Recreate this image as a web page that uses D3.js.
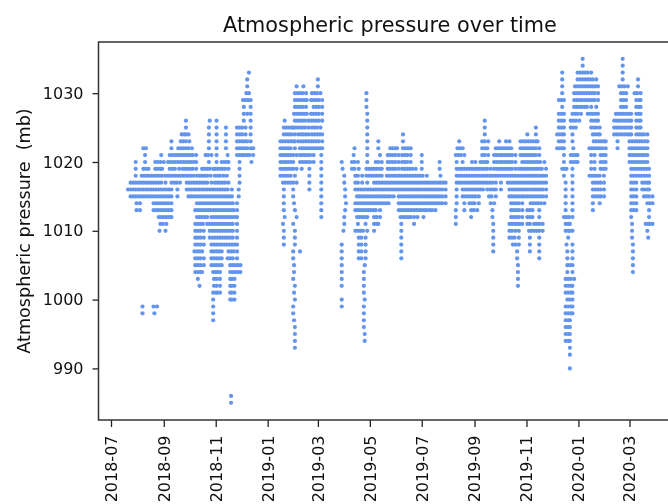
<!DOCTYPE html>
<html>
<head>
  <meta charset="utf-8">
  <title>Atmospheric pressure over time</title>
  <script src="https://d3js.org/d3.v7.min.js"></script>
  <style>
    html, body { margin: 0; padding: 0; background: #fff; overflow: hidden; }
    svg { display: block; filter: blur(0.5px); }
    text { font-family: "DejaVu Sans", sans-serif; fill: #111; }
  </style>
</head>
<body>
<script>
// tick labels
var yTicks = [990, 1000, 1010, 1020, 1030];
var xTickMonths = ["2018-07", "2018-09", "2018-11", "2019-01", "2019-03", "2019-05", "2019-07", "2019-09", "2019-11", "2020-01", "2020-03"];

// readings: pressure in mb, and for each pressure the days (counted from 2018-07-01) it was seen on
var pressures = [1035, 1034, 1033, 1032, 1031, 1030, 1029, 1028, 1027, 1026, 1025, 1024, 1023, 1022, 1021, 1020, 1019, 1018, 1017, 1016, 1015, 1014, 1013, 1012, 1011, 1010, 1009, 1008, 1007, 1006, 1005, 1004, 1003, 1002, 1001, 1000, 999, 998, 997, 996, 995, 994, 993, 992, 990, 986, 985];

var days1035 = [554, 601];
var days1034 = [554, 601];
var days1033 = [162, 530, 548, 551, 554, 557, 560, 564, 601];
var days1032 = [160, 243, 530, 548, 551, 554, 557, 560, 563, 566, 570, 601, 619];
var days1031 = [160, 218, 226, 243, 530, 545, 548, 551, 554, 557, 560, 563, 566, 569, 572, 597, 600, 603, 607, 619];
var days1030 = [159, 162, 216, 219, 222, 225, 229, 236, 239, 242, 246, 300, 530, 544, 547, 550, 553, 556, 559, 562, 565, 568, 572, 599, 602, 605, 615, 618, 622];
var days1029 = [155, 158, 161, 164, 216, 219, 222, 225, 228, 230, 235, 238, 241, 244, 248, 300, 526, 529, 532, 544, 547, 550, 553, 556, 559, 562, 565, 568, 572, 599, 602, 605, 617, 620, 622];
var days1028 = [156, 164, 216, 219, 222, 225, 229, 238, 241, 244, 248, 300, 530, 544, 547, 550, 553, 556, 559, 564, 570, 599, 602, 605, 617, 620, 622];
var days1027 = [156, 160, 164, 215, 218, 221, 224, 227, 230, 235, 238, 241, 244, 248, 301, 526, 529, 532, 542, 545, 548, 552, 560, 563, 566, 569, 572, 593, 596, 599, 602, 605, 608, 611, 617, 620, 622];
var days1026 = [88, 116, 124, 156, 164, 204, 216, 219, 222, 225, 228, 232, 235, 238, 241, 244, 248, 301, 439, 526, 529, 532, 540, 543, 546, 550, 564, 567, 570, 572, 591, 594, 597, 600, 603, 606, 609, 611, 617, 620, 622];
var days1025 = [88, 115, 124, 135, 148, 151, 154, 158, 164, 203, 206, 209, 212, 214, 216, 219, 222, 225, 228, 232, 236, 239, 242, 246, 301, 439, 499, 526, 529, 532, 540, 543, 546, 564, 567, 570, 574, 591, 594, 597, 600, 603, 606, 609, 611, 617, 620, 622];
var days1024 = [83, 86, 88, 91, 115, 124, 135, 148, 151, 154, 158, 164, 203, 206, 209, 212, 216, 220, 223, 226, 229, 232, 236, 239, 242, 245, 248, 301, 343, 439, 489, 499, 524, 527, 530, 532, 542, 566, 569, 572, 574, 591, 594, 597, 600, 603, 606, 609, 611, 617, 620, 623, 626, 630];
var days1023 = [71, 82, 85, 88, 92, 115, 124, 135, 148, 151, 154, 157, 160, 164, 199, 202, 205, 208, 211, 214, 216, 220, 223, 226, 229, 232, 235, 238, 241, 244, 248, 301, 314, 343, 409, 436, 439, 443, 456, 464, 468, 481, 484, 487, 490, 493, 496, 499, 501, 526, 529, 532, 542, 567, 570, 573, 576, 579, 581, 595, 609, 612, 615, 618, 621, 624, 627, 630];
var days1022 = [38, 41, 71, 79, 82, 85, 88, 91, 95, 115, 124, 135, 148, 151, 154, 157, 160, 164, 167, 199, 202, 205, 208, 211, 216, 222, 225, 228, 231, 234, 237, 240, 243, 246, 248, 286, 301, 314, 328, 331, 334, 336, 343, 346, 349, 352, 407, 410, 413, 436, 439, 442, 452, 455, 458, 461, 464, 467, 470, 481, 484, 487, 490, 493, 496, 499, 503, 524, 527, 530, 532, 543, 562, 565, 568, 571, 574, 577, 581, 595, 609, 612, 615, 618, 621, 624, 627, 630];
var days1021 = [40, 59, 69, 72, 75, 78, 81, 84, 87, 90, 93, 96, 100, 111, 114, 118, 124, 137, 148, 151, 154, 157, 160, 163, 167, 199, 202, 205, 208, 211, 214, 218, 222, 225, 228, 231, 234, 238, 247, 285, 301, 316, 325, 328, 331, 334, 338, 342, 345, 348, 352, 365, 405, 408, 411, 415, 436, 439, 443, 450, 453, 456, 459, 462, 465, 468, 471, 475, 481, 484, 487, 490, 493, 496, 499, 503, 532, 540, 543, 546, 548, 564, 568, 575, 578, 581, 609, 612, 615, 618, 621, 624, 627, 630];
var days1020 = [29, 40, 52, 55, 58, 62, 67, 70, 73, 76, 79, 82, 85, 88, 91, 94, 97, 100, 115, 124, 130, 133, 136, 138, 151, 165, 199, 202, 205, 208, 211, 214, 222, 225, 228, 231, 234, 238, 247, 271, 283, 286, 290, 301, 311, 314, 318, 325, 328, 331, 334, 338, 342, 345, 348, 352, 365, 386, 406, 413, 424, 428, 434, 437, 440, 442, 450, 453, 456, 459, 462, 465, 468, 471, 475, 483, 486, 489, 492, 495, 498, 501, 504, 509, 532, 540, 543, 546, 548, 564, 568, 575, 578, 581, 609, 612, 615, 618, 621, 624, 627, 630];
var days1019 = [29, 38, 41, 44, 52, 55, 58, 60, 69, 72, 75, 80, 84, 87, 90, 93, 96, 100, 107, 110, 113, 116, 120, 122, 125, 128, 131, 134, 138, 151, 199, 202, 205, 208, 211, 214, 218, 224, 233, 247, 272, 283, 286, 291, 300, 303, 306, 309, 312, 315, 318, 325, 328, 331, 334, 338, 342, 345, 348, 351, 354, 358, 365, 386, 406, 409, 412, 415, 418, 421, 424, 427, 430, 433, 436, 439, 442, 446, 450, 453, 456, 459, 462, 465, 468, 471, 475, 479, 482, 485, 488, 491, 494, 497, 500, 503, 506, 511, 530, 533, 535, 542, 564, 568, 575, 578, 581, 611, 614, 617, 620, 623, 626, 629, 632];
var days1018 = [29, 36, 39, 42, 45, 48, 51, 54, 57, 60, 64, 67, 70, 73, 76, 79, 82, 85, 88, 91, 94, 97, 101, 104, 107, 110, 113, 117, 122, 125, 128, 132, 136, 151, 199, 202, 205, 208, 211, 216, 233, 247, 274, 287, 290, 295, 300, 303, 306, 309, 312, 315, 318, 324, 327, 330, 333, 336, 339, 342, 345, 348, 351, 354, 357, 360, 363, 366, 371, 387, 406, 409, 412, 415, 418, 421, 424, 427, 430, 433, 436, 439, 442, 445, 448, 451, 454, 457, 460, 463, 466, 469, 472, 475, 478, 481, 484, 487, 490, 493, 496, 499, 502, 505, 508, 511, 532, 542, 562, 565, 568, 571, 574, 579, 611, 614, 617, 620, 623, 626, 629, 632];
var days1017 = [23, 26, 29, 32, 35, 38, 41, 44, 47, 50, 53, 56, 59, 64, 71, 74, 77, 81, 89, 92, 95, 98, 101, 104, 107, 110, 113, 118, 122, 125, 128, 131, 134, 138, 151, 202, 205, 208, 211, 214, 218, 233, 247, 274, 287, 290, 295, 301, 309, 312, 315, 318, 321, 324, 327, 330, 333, 336, 339, 342, 345, 348, 351, 354, 357, 360, 363, 366, 369, 372, 375, 378, 381, 384, 387, 390, 393, 406, 409, 412, 415, 418, 421, 424, 427, 430, 433, 436, 439, 442, 445, 448, 452, 458, 466, 469, 472, 475, 478, 481, 484, 487, 490, 493, 496, 499, 502, 505, 508, 511, 534, 542, 566, 569, 572, 575, 579, 611, 614, 617, 624, 627, 630, 632];
var days1016 = [20, 23, 26, 29, 32, 35, 38, 41, 44, 47, 50, 53, 56, 59, 62, 65, 68, 71, 78, 89, 92, 95, 98, 101, 104, 107, 110, 113, 116, 119, 122, 125, 128, 131, 134, 137, 142, 150, 203, 214, 233, 247, 275, 287, 290, 293, 296, 299, 302, 305, 308, 311, 314, 317, 320, 323, 326, 329, 332, 335, 338, 341, 344, 347, 350, 353, 356, 359, 362, 365, 368, 371, 374, 377, 380, 383, 386, 389, 393, 406, 413, 416, 419, 422, 425, 428, 431, 434, 437, 442, 446, 449, 452, 458, 468, 471, 474, 477, 480, 483, 486, 489, 492, 495, 498, 501, 504, 507, 511, 534, 542, 566, 569, 572, 575, 579, 611, 614, 617, 624, 627, 630, 632];
var days1015 = [23, 26, 29, 32, 35, 38, 41, 44, 47, 50, 53, 56, 59, 62, 65, 68, 71, 78, 91, 94, 97, 100, 103, 106, 109, 112, 115, 118, 121, 124, 127, 130, 133, 136, 139, 142, 150, 203, 214, 247, 275, 289, 292, 295, 298, 301, 304, 307, 310, 313, 316, 319, 322, 325, 328, 332, 338, 341, 344, 347, 350, 353, 356, 359, 362, 365, 368, 371, 374, 377, 380, 383, 386, 389, 393, 406, 413, 416, 419, 422, 425, 428, 432, 444, 447, 452, 468, 471, 474, 477, 480, 483, 486, 489, 492, 495, 498, 501, 504, 507, 511, 534, 542, 566, 569, 572, 575, 579, 611, 614, 617, 626, 629, 632, 636];
var days1014 = [30, 34, 50, 53, 56, 59, 62, 65, 68, 71, 101, 104, 107, 110, 113, 116, 119, 122, 125, 128, 131, 134, 137, 140, 143, 148, 203, 215, 247, 276, 287, 290, 293, 296, 299, 302, 305, 308, 311, 314, 317, 320, 323, 326, 338, 341, 344, 347, 350, 353, 356, 359, 362, 365, 368, 371, 374, 377, 380, 383, 386, 389, 393, 406, 415, 421, 424, 427, 432, 446, 450, 470, 473, 476, 479, 483, 493, 496, 499, 502, 505, 509, 534, 542, 566, 574, 611, 614, 617, 630, 633, 636];
var days1013 = [30, 34, 50, 53, 56, 59, 62, 65, 68, 71, 99, 102, 105, 108, 111, 114, 117, 120, 123, 126, 129, 132, 135, 138, 141, 144, 148, 203, 216, 247, 275, 287, 290, 293, 296, 299, 302, 305, 308, 311, 316, 338, 341, 344, 347, 350, 353, 356, 359, 362, 365, 368, 371, 374, 377, 381, 405, 415, 423, 426, 430, 448, 470, 473, 476, 479, 483, 489, 492, 495, 503, 534, 542, 566, 611, 614, 617, 632];
var days1012 = [56, 59, 62, 65, 68, 71, 101, 104, 107, 110, 113, 118, 121, 124, 127, 130, 133, 136, 139, 142, 145, 148, 204, 218, 247, 274, 289, 292, 295, 298, 301, 309, 312, 316, 340, 343, 346, 349, 352, 356, 360, 367, 405, 423, 448, 470, 473, 476, 479, 483, 489, 492, 495, 503, 532, 535, 538, 542, 611, 632];
var days1011 = [58, 61, 65, 99, 102, 105, 108, 113, 116, 119, 122, 125, 128, 131, 134, 137, 140, 143, 148, 202, 214, 274, 290, 299, 309, 312, 314, 341, 356, 405, 449, 468, 471, 474, 477, 480, 483, 489, 492, 497, 500, 503, 507, 534, 537, 539, 612, 628, 631, 633, 636];
var days1010 = [57, 64, 99, 102, 105, 109, 116, 119, 122, 125, 128, 131, 134, 137, 140, 143, 148, 203, 216, 273, 287, 290, 293, 296, 301, 309, 341, 449, 468, 471, 475, 479, 491, 494, 497, 500, 503, 507, 534, 537, 539, 542, 612, 630];
var days1009 = [99, 102, 105, 109, 116, 119, 122, 125, 128, 131, 134, 137, 140, 143, 148, 203, 216, 291, 294, 299, 341, 449, 468, 471, 474, 479, 492, 503, 537, 612, 631];
var days1008 = [99, 102, 105, 109, 118, 121, 124, 127, 130, 133, 136, 139, 142, 145, 148, 203, 216, 271, 291, 294, 299, 341, 449, 472, 475, 479, 492, 503, 535, 542, 613];
var days1007 = [98, 101, 104, 107, 118, 121, 124, 127, 130, 138, 141, 144, 148, 214, 222, 271, 291, 294, 299, 341, 449, 477, 492, 503, 536, 542, 613];
var days1006 = [99, 102, 105, 109, 118, 121, 124, 127, 130, 137, 140, 143, 148, 214, 271, 291, 294, 299, 341, 477, 503, 536, 542, 613];
var days1005 = [99, 102, 105, 109, 118, 121, 124, 127, 130, 140, 143, 146, 149, 152, 215, 271, 298, 478, 536, 539, 542, 613];
var days1004 = [99, 102, 105, 107, 120, 123, 125, 128, 140, 143, 146, 149, 152, 215, 271, 297, 478, 536, 542, 613];
var days1003 = [102, 121, 124, 128, 140, 142, 145, 214, 271, 297, 478, 534, 537, 540, 544];
var days1002 = [104, 121, 124, 128, 140, 142, 145, 216, 271, 297, 478, 534, 537, 540, 542];
var days1001 = [120, 123, 125, 128, 140, 142, 145, 215, 297, 534, 537, 540, 542];
var days1000 = [120, 140, 142, 145, 216, 271, 298, 536, 539, 542];
var days999 = [37, 50, 54, 120, 214, 271, 297, 534, 537, 540, 542];
var days998 = [37, 51, 120, 214, 297, 534, 537, 540, 542];
var days997 = [120, 215, 297, 534, 537, 539];
var days996 = [216, 297, 534, 537, 539];
var days995 = [216, 298, 534, 537, 539];
var days994 = [216, 298, 534, 537, 539];
var days993 = [216, 539];
var days992 = [539];
var days990 = [539];
var days986 = [141];
var days985 = [141];

var daysByPressure = [days1035, days1034, days1033, days1032, days1031, days1030, days1029, days1028, days1027, days1026, days1025, days1024, days1023, days1022, days1021, days1020, days1019, days1018, days1017, days1016, days1015, days1014, days1013, days1012, days1011, days1010, days1009, days1008, days1007, days1006, days1005, days1004, days1003, days1002, days1001, days1000, days999, days998, days997, days996, days995, days994, days993, days992, days990, days986, days985];

var width = 668, height = 504;
var margin = { left: 98.5, top: 42, bottom: 420 };
var parseMonth = d3.utcParse("%Y-%m");
var startDate = parseMonth("2018-07");

var xScale = d3.scaleUtc()
  .domain([startDate, parseMonth("2020-03")])
  .range([111, 629.5]);

var yScale = d3.scaleLinear()
  .domain([982.5, 1037.44])
  .range([margin.bottom, margin.top]);

var svg = d3.select("body").append("svg").attr("width", width).attr("height", height);

// points
var readings = [];
pressures.forEach(function(p, i) {
  daysByPressure[i].forEach(function(day) {
    readings.push({ date: d3.utcDay.offset(startDate, day), pressure: p });
  });
});

svg.append("g")
  .selectAll("circle")
  .data(readings)
  .enter()
  .append("circle")
  .attr("cx", function(d) { return xScale(d.date); })
  .attr("cy", function(d) { return yScale(d.pressure); })
  .attr("r", 2.1)
  .attr("fill", "cornflowerblue");

// axes
var xAxis = svg.append("g")
  .attr("transform", "translate(0," + margin.bottom + ")")
  .call(d3.axisBottom(xScale)
    .tickValues(xTickMonths.map(parseMonth))
    .tickFormat(d3.utcFormat("%Y-%m"))
    .tickSize(7)
    .tickPadding(0));
xAxis.selectAll("text")
  .attr("transform", "rotate(-90)")
  .attr("x", -15.5)
  .attr("y", 0)
  .attr("dy", "0.34em")
  .attr("text-anchor", "end")
  .style("font-size", "16px");

var yAxis = svg.append("g")
  .attr("transform", "translate(" + margin.left + ",0)")
  .call(d3.axisLeft(yScale).tickValues(yTicks).tickFormat(d3.format("d")).tickSize(6).tickPadding(9));
yAxis.selectAll("text").style("font-size", "16px");

svg.selectAll(".domain").remove();
svg.selectAll(".tick line").attr("stroke", "#222").attr("stroke-width", 1.3);

// frame, the right side falls outside the window
svg.append("rect")
  .attr("x", margin.left)
  .attr("y", margin.top)
  .attr("width", 682 - margin.left)
  .attr("height", margin.bottom - margin.top)
  .attr("fill", "none")
  .attr("stroke", "#333")
  .attr("stroke-width", 1.5);

svg.append("text")
  .attr("x", 390)
  .attr("y", 32)
  .attr("text-anchor", "middle")
  .style("font-size", "20.8px")
  .text("Atmospheric pressure over time");

svg.append("text")
  .attr("transform", "translate(30,231) rotate(-90)")
  .attr("text-anchor", "middle")
  .attr("xml:space", "preserve")
  .style("font-size", "17.6px")
  .style("white-space", "pre")
  .text("Atmospheric pressure  (mb)");
</script>
</body>
</html>
